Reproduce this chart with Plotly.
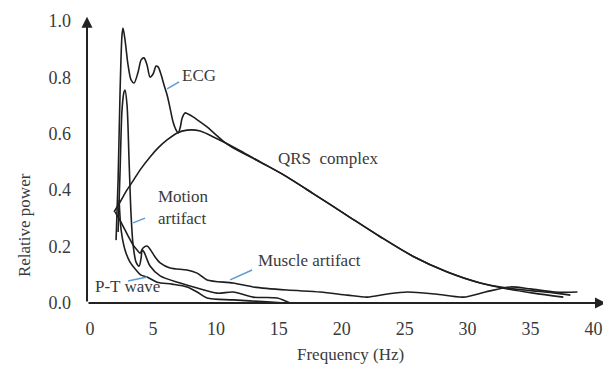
import plotly.graph_objects as go

# ---- data (Frequency in Hz, relative power) ----
ecg_x = [2.07, 2.23, 2.39, 2.54, 2.62, 2.78, 3.02, 3.26, 3.50, 3.82, 4.06, 4.29, 4.53, 4.77,
         5.01, 5.25, 5.41, 5.65, 5.88, 6.12, 6.36, 6.60, 6.84, 7.00, 7.16, 7.32, 7.55, 7.79,
         8.19, 8.75, 9.30, 9.94, 10.58, 11.29, 13.52, 15.35, 17.73, 20.44, 23.06, 25.69,
         28.39, 31.01, 33.16, 35.23, 37.61]
ecg_y = [0.223, 0.436, 0.755, 0.950, 0.975, 0.933, 0.844, 0.791, 0.780, 0.819, 0.862, 0.869,
         0.844, 0.801, 0.812, 0.840, 0.837, 0.809, 0.773, 0.738, 0.691, 0.642, 0.613, 0.603,
         0.621, 0.656, 0.674, 0.670, 0.660, 0.642, 0.624, 0.599, 0.574, 0.552, 0.500, 0.455,
         0.388, 0.310, 0.235, 0.165, 0.110, 0.071, 0.050, 0.035, 0.021]

qrs_x = [1.91, 2.39, 2.94, 3.42, 3.98, 4.77, 5.41, 6.12, 6.92, 7.71, 8.75, 10.10, 11.93,
         13.52, 15.35, 17.73, 20.44, 23.06, 25.69, 28.39, 31.01, 33.16, 35.23, 36.98, 38.17]
qrs_y = [0.323, 0.358, 0.401, 0.433, 0.472, 0.518, 0.550, 0.578, 0.603, 0.613, 0.610, 0.582,
         0.540, 0.500, 0.455, 0.388, 0.310, 0.235, 0.165, 0.110, 0.071, 0.053, 0.043, 0.035,
         0.028]

motion_x = [2.23, 2.39, 2.54, 2.70, 2.78, 2.94, 3.10, 3.26, 3.42, 3.66, 3.90, 4.06, 4.14,
            4.29, 4.77, 5.57, 7.16, 8.51, 10.10, 11.37, 12.96, 14.87, 15.90]
motion_y = [0.252, 0.472, 0.684, 0.748, 0.755, 0.702, 0.507, 0.312, 0.206, 0.145, 0.131,
            0.160, 0.188, 0.181, 0.131, 0.096, 0.071, 0.053, 0.035, 0.039, 0.021, 0.018, 0.0]

muscle_x = [1.99, 2.54, 3.02, 3.42, 3.74, 3.98, 4.21, 4.53, 4.77, 5.17, 5.57, 6.36, 7.71,
            8.51, 9.30, 11.37, 12.96, 15.67, 18.29, 20.44, 22.03, 23.62, 25.21, 27.44, 29.66,
            31.41, 33.40, 34.99, 36.98, 38.73]
muscle_y = [0.323, 0.280, 0.238, 0.206, 0.188, 0.177, 0.195, 0.202, 0.191, 0.163, 0.142,
            0.124, 0.117, 0.106, 0.082, 0.071, 0.057, 0.046, 0.039, 0.028, 0.021, 0.032,
            0.039, 0.032, 0.021, 0.039, 0.057, 0.050, 0.039, 0.039]

pt_x = [2.31, 2.47, 2.78, 3.18, 3.66, 4.06, 4.53, 5.33, 6.52, 7.71, 8.51, 9.30, 11.37,
        14.08, 15.51]
pt_y = [0.365, 0.259, 0.188, 0.145, 0.117, 0.099, 0.092, 0.074, 0.067, 0.057, 0.039, 0.018,
        0.011, 0.004, 0.0]

x_ticks = [0, 5, 10, 15, 20, 25, 30, 35, 40]
y_ticks = [0.0, 0.2, 0.4, 0.6, 0.8, 1.0]

# labels: (text, x, y) and leader lines (x0, y0, x1, y1)
labels = [
    ("ECG", 8.63, 0.805),
    ("QRS  complex", 18.93, 0.511),
    ("Motion<br>artifact", 7.40, 0.340),
    ("Muscle artifact", 17.42, 0.149),
    ("P-T wave", 2.98, 0.057),
]
leaders = [
    (6.12, 0.759, 7.08, 0.784),
    (3.42, 0.284, 4.37, 0.301),
    (11.13, 0.082, 12.88, 0.117),
    (3.02, 0.078, 4.53, 0.092),
]

FONT = "Liberation Serif"
LINE = "#1e1e1e"
TEXT = "#3a3a3a"

fig = go.Figure()
for name, xs, ys in [("ECG", ecg_x, ecg_y), ("QRS complex", qrs_x, qrs_y),
                     ("Motion artifact", motion_x, motion_y),
                     ("Muscle artifact", muscle_x, muscle_y), ("P-T wave", pt_x, pt_y)]:
    fig.add_trace(go.Scatter(x=xs, y=ys, name=name, mode="lines",
                             line=dict(color=LINE, width=1.6, shape="spline", smoothing=0.8),
                             showlegend=False, cliponaxis=False))

for (x0, y0, x1, y1) in leaders:
    fig.add_shape(type="line", x0=x0, y0=y0, x1=x1, y1=y1, xref="x", yref="y",
                  line=dict(color="#5b9bd5", width=1.5))

for text, x, y in labels:
    fig.add_annotation(x=x, y=y, text=text, showarrow=False, xref="x", yref="y",
                       xanchor="center", yanchor="middle",
                       align="left", font=dict(family=FONT, size=17, color=TEXT))

# axes with arrows
fig.add_annotation(x=-0.24, y=1.015, ax=-0.24, ay=0, xref="x", yref="y", axref="x", ayref="y",
                   text="", showarrow=True, arrowhead=2, arrowsize=1.1, arrowwidth=2,
                   arrowcolor="#222")
fig.add_annotation(x=41.0, y=0, ax=-0.24, ay=0, xref="x", yref="y", axref="x", ayref="y",
                   text="", showarrow=True, arrowhead=2, arrowsize=1.1, arrowwidth=2,
                   arrowcolor="#222")

fig.add_annotation(x=-0.115, y=0.276, text="Relative power", textangle=-90, showarrow=False,
                   xref="paper", yref="paper", xanchor="center", yanchor="middle",
                   font=dict(family=FONT, size=17, color=TEXT))
fig.add_annotation(x=0.509, y=-0.172, text="Frequency (Hz)", showarrow=False,
                   xref="paper", yref="paper", xanchor="center", yanchor="middle",
                   font=dict(family=FONT, size=17, color=TEXT))

# page body has an 8px default margin, so the figure is 8px smaller each way
fig.update_layout(
    width=603, height=359,
    margin=dict(l=77, r=5, t=7, b=62),
    paper_bgcolor="white", plot_bgcolor="white",
    xaxis=dict(range=[-0.4, 41.0], tickvals=x_ticks, ticktext=[str(v) for v in x_ticks],
               showgrid=False, zeroline=False, showline=False, ticks="", automargin=False,
               ticklabelstandoff=11, tickfont=dict(family=FONT, size=18, color=TEXT)),
    yaxis=dict(range=[-0.007, 1.021], tickvals=y_ticks,
               ticktext=["%.1f" % v for v in y_ticks], automargin=False,
               showgrid=False, zeroline=False, showline=False, ticks="",
               ticklabelstandoff=13, tickfont=dict(family=FONT, size=18, color=TEXT)),
)

fig.write_html("out.html")
